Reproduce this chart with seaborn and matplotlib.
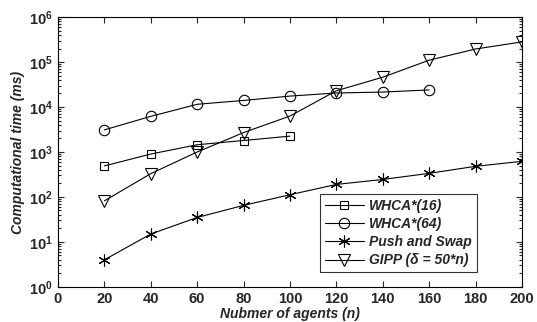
import math
import matplotlib
matplotlib.use("Agg")
import matplotlib.pyplot as plt
import seaborn as sns
import pandas as pd
from matplotlib.ticker import FixedLocator, FuncFormatter, LogLocator

sns.set_style("ticks")
plt.rcParams['font.family'] = ['Liberation Sans', 'DejaVu Sans']
plt.rcParams['mathtext.fontset'] = 'custom'
plt.rcParams['mathtext.rm'] = 'Liberation Sans:bold'
plt.rcParams['mathtext.bf'] = 'Liberation Sans:bold'
plt.rcParams['mathtext.it'] = 'Liberation Sans:bold:italic'

agents_whca16 = [20, 40, 60, 80, 100]
whca16 = [490, 900, 1450, 1800, 2250]
agents_whca64 = [20, 40, 60, 80, 100, 120, 140, 160]
whca64 = [3100, 6200, 11500, 14000, 17500, 20500, 21500, 24000]
agents_all = [20, 40, 60, 80, 100, 120, 140, 160, 180, 200]
push_swap = [4.0, 15, 35, 65, 112, 190, 245, 335, 480, 620]
gipp = [82, 330, 1000, 2700, 6300, 23000, 46000, 110000, 195000, 280000]

labels = ["WHCA*(16)", "WHCA*(64)", "Push and Swap", "GIPP (δ = 50*n)"]
series = [(agents_whca16, whca16, 's', 6), (agents_whca64, whca64, 'o', 7.5),
          (agents_all, push_swap, (6, 2, 0), 8.5), (agents_all, gipp, 'v', 8)]

fig = plt.figure(figsize=(5.37, 3.22), dpi=100)
ax = fig.add_axes([0.108, 0.109, 0.864, 0.838])

for (xs, ys, m, ms), lab in zip(series, labels):
    df = pd.DataFrame({"n": xs, "t": ys})
    sns.lineplot(data=df, x="n", y="t", ax=ax, color="black", linewidth=0.8,
                 marker=m, markersize=ms,
                 markerfacecolor="none", markeredgecolor="black",
                 markeredgewidth=0.8, label=lab)

ax.set_yscale("log")
ax.set_xlim(0, 200)
ax.set_ylim(1, 1e6)
ax.set_xticks(range(0, 201, 20))
ax.yaxis.set_major_locator(FixedLocator([10.0**k for k in range(7)]))
ax.yaxis.set_major_formatter(FuncFormatter(lambda v, p: r'$\mathbf{10^{%d}}$' % round(math.log10(v))))
ax.yaxis.set_minor_locator(LogLocator(base=10, subs=range(2, 10), numticks=20))

ax.tick_params(which="both", direction="in", top=True, right=True, labelsize=10.5, width=0.8)
ax.tick_params(which="major", length=4.5)
ax.tick_params(which="minor", length=2)
for lbl in ax.get_xticklabels():
    lbl.set_fontweight("bold")
for s in ax.spines.values():
    s.set_linewidth(0.8)
    s.set_color("black")

ax.set_xlabel("Nubmer of agents (n)", fontsize=10, fontweight="bold", style="italic", labelpad=1)
ax.set_ylabel("Computational time (ms)", fontsize=10, fontweight="bold", style="italic", labelpad=3)

leg = ax.legend(loc="upper left", bbox_to_anchor=(320/537, 1 - 194/322), bbox_transform=fig.transFigure,
                frameon=True, fancybox=False, edgecolor="black", handlelength=2.8,
                prop={"weight": "bold", "style": "italic", "size": 10}, borderpad=0.35,
                labelspacing=0.3, handletextpad=0.4, borderaxespad=0)
leg.get_frame().set_linewidth(0.8)

fig.savefig("out.png", dpi=100)
